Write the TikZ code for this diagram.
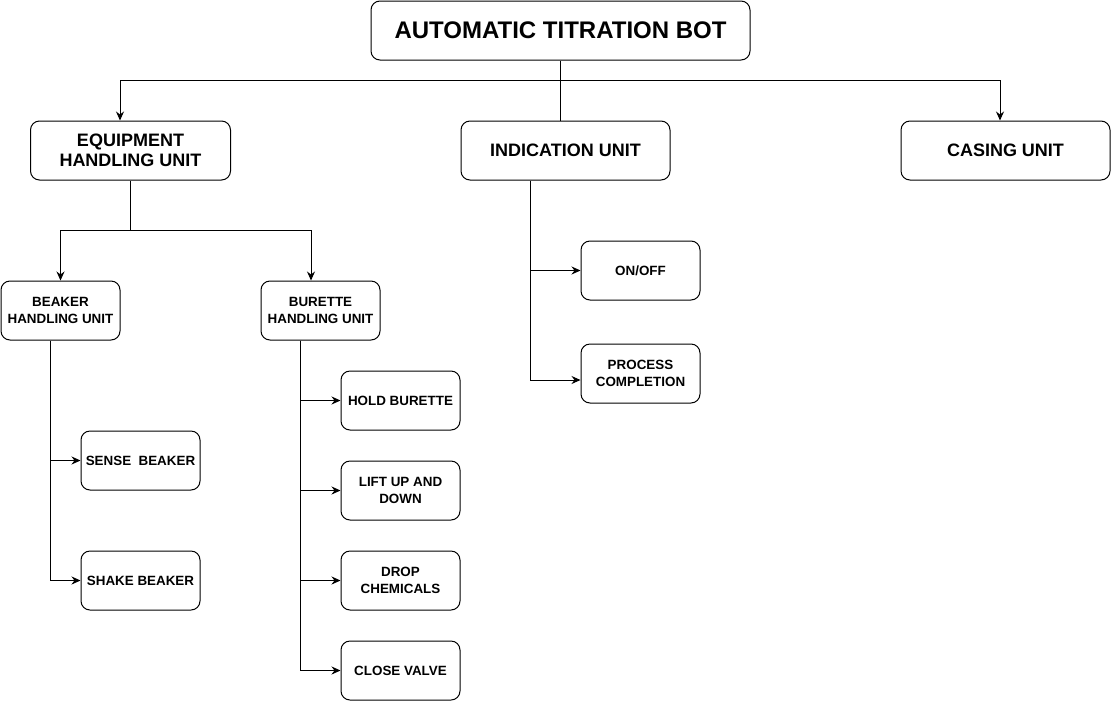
\documentclass[tikz,border=0pt]{standalone}
\usepackage{fontspec}
\setmainfont{Liberation Sans}
\usetikzlibrary{arrows.meta}
\begin{document}
\begin{tikzpicture}[x=1pt,y=-1pt,
  box/.style={draw=black,line width=1pt,rounded corners=9pt,fill=white,align=center,inner sep=0pt,minimum height=59pt,font=\bfseries},
  big/.style={box,minimum width=379pt,font=\fontsize{24}{27}\selectfont\bfseries},
  mid/.style={box,font=\fontsize{18}{20}\selectfont\bfseries},
  small/.style={box,minimum width=119pt,font=\fontsize{13.4}{17}\selectfont\bfseries},
  link/.style={line width=1pt,draw=black},
  arr/.style={link,-{Stealth[length=9pt,width=8pt,inset=3pt]}}]
\useasboundingbox (0,0) rectangle (1111,702);
\fill[white] (0,0) rectangle (1111,702);
\node[big] (root) at (560.5,30.5) {AUTOMATIC TITRATION BOT};
\node[mid,minimum width=200pt] (equip) at (130.5,150.5) {EQUIPMENT\\HANDLING UNIT};
\node[mid,minimum width=209pt] (ind) at (565.5,150.5) {INDICATION UNIT};
\node[mid,minimum width=209pt] (casing) at (1005.5,150.5) {CASING UNIT};
\node[small] (beaker) at (60.5,310.5) {BEAKER\\HANDLING UNIT};
\node[small] (burette) at (320.5,310.5) {BURETTE\\HANDLING UNIT};
\node[small] (sense) at (140.5,460.5) {SENSE~~BEAKER};
\node[small] (shake) at (140.5,580.5) {SHAKE BEAKER};
\node[small] (hold) at (400.5,400.5) {HOLD BURETTE};
\node[small] (lift) at (400.5,490.5) {LIFT UP AND\\DOWN};
\node[small] (drop) at (400.5,580.5) {DROP\\CHEMICALS};
\node[small] (close) at (400.5,670.5) {CLOSE VALVE};
\node[small] (onoff) at (640.5,270.5) {ON/OFF};
\node[small] (proc) at (640.5,373.5) {PROCESS\\COMPLETION};
\coordinate (bus) at (560.5,80);
\draw[link] (root.south) -- (bus);
\draw[arr] (bus) -| ([xshift=-10.5pt]equip.north);
\draw[arr] (bus) -| ([xshift=-5.5pt]casing.north);
\draw[link] (bus) -- (bus |- ind.north);
\coordinate (eb) at (130.5,230);
\draw[link] (equip.south) -- (eb);
\draw[arr] (eb) -| (beaker.north);
\draw[arr] (eb) -| ([xshift=-9.5pt]burette.north);
\draw[arr] ([xshift=-10.5pt]beaker.south) |- (sense.west);
\draw[arr] ([xshift=-10.5pt]beaker.south) |- (shake.west);
\draw[arr] ([xshift=-20.5pt]burette.south) |- (hold.west);
\draw[arr] ([xshift=-20.5pt]burette.south) |- (lift.west);
\draw[arr] ([xshift=-20.5pt]burette.south) |- (drop.west);
\draw[arr] ([xshift=-20.5pt]burette.south) |- (close.west);
\draw[arr] ([xshift=-35.5pt]ind.south) |- (onoff.west);
\draw[arr] ([xshift=-35.5pt]ind.south) |- ([yshift=-6.5pt]proc.west);
\end{tikzpicture}
\end{document}
